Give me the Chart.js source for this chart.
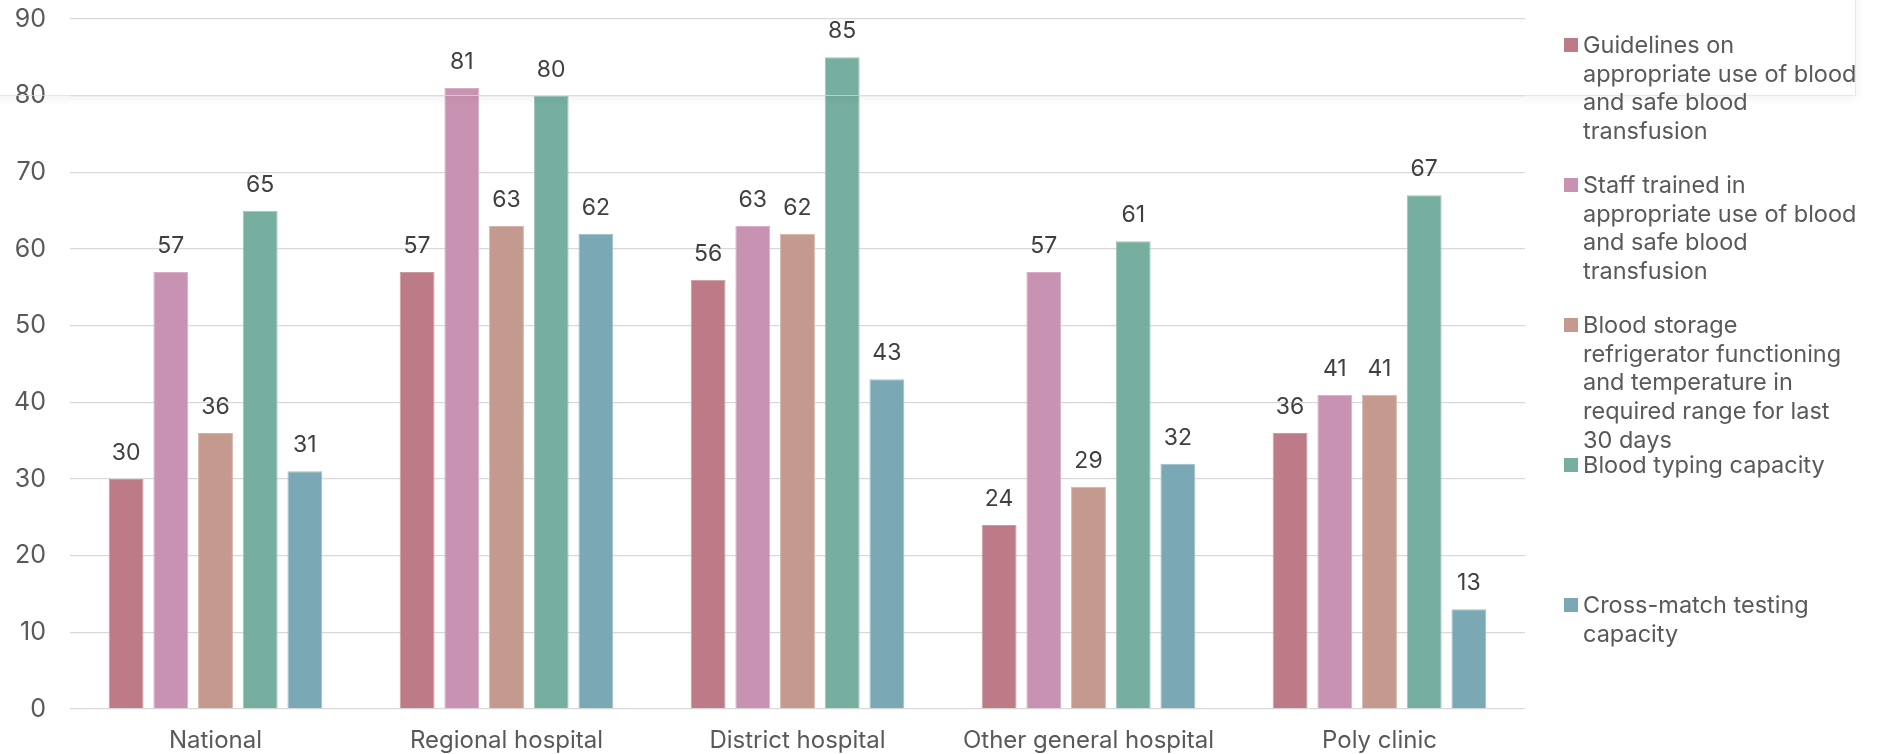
<!DOCTYPE html>
<html>
<head>
<meta charset="utf-8">
<script src="https://cdn.jsdelivr.net/npm/chart.js@4/dist/chart.umd.min.js"></script>
<style>
  html, body { margin: 0; padding: 0; background: #ffffff; }
  #wrap { position: relative; width: 1885px; height: 754px; overflow: hidden;
          font-family: Inter, "Liberation Sans", Arial, sans-serif; }
  #c { position: absolute; left: 0; top: 0; }
  #panel { position: absolute; left: -20px; top: -20px; width: 1874px; height: 114px;
           border: 1px solid rgba(238, 212, 218, 0.7);
           box-shadow: 2px 4px 8px rgba(0, 0, 0, 0.045); pointer-events: none; }
  .lg { position: absolute; left: 1564px; color: #595959; font-size: 23.5px; line-height: 28.7px;
        white-space: nowrap; }
  .lg .sw { position: absolute; left: 0; top: 7px; width: 14px; height: 14px; }
  .lg .tx { position: absolute; left: 19px; top: 0; }
</style>
</head>
<body>
<div id="wrap">
  <canvas id="c" width="1885" height="754"></canvas>
  <div id="panel"></div>
  <div id="legend"></div>
</div>
<script>
// Facility types along the x axis
const categories = ["National", "Regional hospital", "District hospital", "Other general hospital", "Poly clinic"];

// Share of facilities (%) with each blood-safety item
const guidelines      = [30, 57, 56, 24, 36];
const staffTrained    = [57, 81, 63, 57, 41];
const bloodStorage    = [36, 63, 62, 29, 41];
const bloodTyping     = [65, 80, 85, 61, 67];
const crossMatch      = [31, 62, 43, 32, 13];

// Legend text, broken into the lines it is shown with
const seriesLabels = [
  ["Guidelines on", "appropriate use of blood", "and safe blood", "transfusion"],
  ["Staff trained in", "appropriate use of blood", "and safe blood", "transfusion"],
  ["Blood storage", "refrigerator functioning", "and temperature in", "required range for last", "30 days"],
  ["Blood typing capacity"],
  ["Cross-match testing", "capacity"]
];

const seriesColors  = ["#bc7b86", "#c893b2", "#c39a8d", "#76aea0", "#7ba8b5"];
const seriesBorders = ["#c99aa2", "#d6afc6", "#d2b3a9", "#9cc4ba", "#9cbfca"];

// Y axis ticks
const yTicks = [0, 10, 20, 30, 40, 50, 60, 70, 80, 90];

const seriesValues = [guidelines, staffTrained, bloodStorage, bloodTyping, crossMatch];

const FONT = "Inter, 'Liberation Sans', Arial, sans-serif";

// Value labels above each bar
const valueLabels = {
  id: "valueLabels",
  afterDatasetsDraw(chart) {
    const ctx = chart.ctx;
    ctx.save();
    ctx.font = "23px " + FONT;
    ctx.fillStyle = "#404040";
    ctx.textAlign = "center";
    ctx.textBaseline = "middle";
    chart.data.datasets.forEach((ds, di) => {
      const meta = chart.getDatasetMeta(di);
      meta.data.forEach((bar, i) => {
        ctx.fillText(String(ds.data[i]), bar.x, bar.y - 26);
      });
    });
    ctx.restore();
  }
};

const chart = new Chart(document.getElementById("c"), {
  type: "bar",
  data: {
    labels: categories,
    datasets: seriesValues.map((vals, i) => ({
      label: seriesLabels[i].join(" "),
      data: vals,
      backgroundColor: seriesColors[i],
      borderColor: seriesBorders[i],
      borderWidth: 1,
      categoryPercentage: 0.768,
      barPercentage: 0.78
    }))
  },
  options: {
    responsive: false,
    animation: false,
    events: [],
    layout: { padding: { left: 0, right: 360, top: 19, bottom: 0 } },
    plugins: { legend: { display: false }, tooltip: { enabled: false } },
    scales: {
      x: {
        grid: { display: false },
        border: { display: false },
        ticks: { color: "#595959", font: { family: FONT, size: 24 }, padding: 9 },
        afterFit(s) { s.height = 45; s.paddingLeft = 0; s.paddingRight = 0; }
      },
      y: {
        min: yTicks[0],
        max: yTicks[yTicks.length - 1],
        afterBuildTicks(s) { s.ticks = yTicks.map(v => ({ value: v })); },
        grid: { color: "#d9d9d9", lineWidth: 1.3, drawTicks: false },
        border: { display: false },
        ticks: { color: "#595959", font: { family: FONT, size: 25 }, padding: 24 },
        afterFit(s) { s.width = 70; s.paddingTop = 0; s.paddingBottom = 0; }
      }
    }
  },
  plugins: [valueLabels]
});

// Legend beside the plot, one block per series
const legend = document.getElementById("legend");
seriesLabels.forEach((lines, i) => {
  const item = document.createElement("div");
  item.className = "lg";
  item.style.top = (31 + i * 140) + "px";
  const sw = document.createElement("div");
  sw.className = "sw";
  sw.style.background = seriesColors[i];
  const tx = document.createElement("div");
  tx.className = "tx";
  tx.innerHTML = lines.join("<br>");
  item.appendChild(sw);
  item.appendChild(tx);
  legend.appendChild(item);
});
</script>
</body>
</html>
